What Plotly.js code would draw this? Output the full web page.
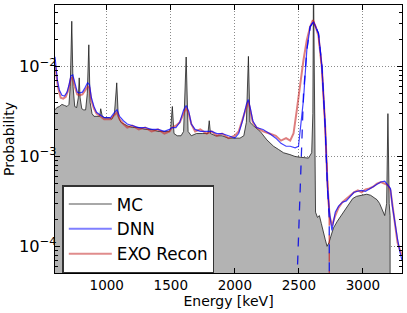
<!DOCTYPE html>
<html>
<head>
<meta charset="utf-8">
<script src="https://cdn.plot.ly/plotly-3.0.1.min.js"></script>
<style>
  html, body { margin: 0; padding: 0; background: #fff; }
  #chart { width: 407px; height: 313px; }
</style>
</head>
<body>
<div id="chart"></div>
<script>
// ---------------- data ----------------
// MC spectrum (1e-8 stands for "empty bin", below the visible axis)
const mcEnergy = [596,610,630,650,670,690,705,715,727,737,750,765,778,785,792,805,820,835,848,860,870,885,900,920,945,953,965,985,1000,1020,1040,1060,1078,1090,1110,1130,1160,1200,1250,1300,1350,1400,1450,1490,1500,1512,1525,1550,1580,1600,1620,1635,1660,1700,1750,1790,1800,1810,1850,1900,1950,2000,2040,2070,2090,2106,2118,2145,2198,2250,2302,2340,2380,2430,2470,2510,2540,2575,2600,2609,2614,2622,2630,2645,2660,2675,2690,2705,2720,2735,2750,2770,2800,2830,2860,2890,2920,2950,2980,3000,3030,3060,3090,3110,3130,3150,3170,3185,3195,3205,3212,3214,3305];
const mcProb   = [0.0033,0.0035,0.0036,0.0038,0.0037,0.0036,0.0038,0.006,0.032,0.006,0.0036,0.0035,0.0045,0.0075,0.0045,0.0034,0.0033,0.0033,0.005,0.0175,0.004,0.003,0.0028,0.0028,0.0028,0.0034,0.0028,0.0027,0.0027,0.0027,0.0026,0.003,0.0066,0.0028,0.0024,0.0023,0.0022,0.0021,0.0021,0.002,0.002,0.0019,0.0019,0.0019,0.0021,0.0036,0.0018,0.0017,0.0017,0.0019,0.0128,0.0019,0.0017,0.0018,0.0018,0.0018,0.0025,0.0018,0.0017,0.0017,0.0016,0.0016,0.0016,0.0017,0.0024,0.013,0.0024,0.0022,0.0019,0.00153,0.0013,0.0012,0.0011,0.00105,0.001,0.00098,0.00097,0.00096,0.0011,0.003,0.1,0.003,0.00024,0.00021,0.00022,0.00018,0.00014,0.00012,0.0001,0.00011,0.00013,0.00016,0.00019,0.00022,0.00026,0.0003,0.00034,0.00036,0.00037,0.00037,0.00038,0.00037,0.00035,0.00033,0.0003,0.00025,0.00022,0.0003,0.003,0.0003,0.00022,1e-8,1e-8];

// DNN reconstruction
const dnnEnergy = [596,605,615,630,650,670,690,705,720,735,750,770,790,810,830,850,865,880,900,920,950,980,1000,1030,1060,1080,1100,1130,1160,1200,1250,1300,1350,1400,1450,1490,1510,1540,1570,1600,1620,1640,1660,1690,1730,1780,1820,1860,1900,1950,2000,2030,2060,2090,2105,2120,2140,2170,2220,2270,2320,2360,2400,2432,2471,2497,2536,2562,2588,2614,2653,2680,2705,2723,2739,2758,2784,2810,2840,2870,2900,2930,2960,2990,3020,3050,3080,3110,3140,3170,3195,3215,3230,3250,3270,3290,3305];
const dnnProb   = [0.0129,0.0095,0.007,0.0055,0.0048,0.0047,0.0052,0.0062,0.0079,0.0081,0.0065,0.0052,0.0051,0.0052,0.0058,0.0066,0.0063,0.0045,0.0036,0.0031,0.0029,0.0027,0.0027,0.0027,0.0031,0.0033,0.0028,0.0025,0.0023,0.0022,0.0021,0.0021,0.002,0.002,0.0019,0.002,0.0021,0.0021,0.0024,0.0033,0.0037,0.0032,0.0023,0.002,0.0019,0.0019,0.0019,0.0018,0.0018,0.0017,0.0016,0.0018,0.0025,0.0038,0.0043,0.0035,0.0025,0.0021,0.002,0.0018,0.0016,0.0014,0.0013,0.0013,0.00125,0.0013,0.0043,0.0153,0.0278,0.0316,0.0235,0.01,0.0022,0.00046,0.00024,0.00015,0.00024,0.00028,0.00031,0.00032,0.00036,0.0004,0.00041,0.00042,0.00041,0.00043,0.00046,0.00049,0.00052,0.00053,0.00048,0.00044,0.00028,0.00018,0.00012,0.000085,0.00007];

// EXO Recon
const reconEnergy = [596,605,620,640,660,680,700,720,735,750,770,790,810,830,850,865,880,900,920,950,980,1000,1030,1060,1080,1100,1130,1160,1200,1250,1300,1350,1400,1450,1490,1510,1540,1570,1600,1620,1640,1660,1690,1730,1780,1820,1860,1900,1950,2000,2030,2060,2090,2105,2120,2140,2170,2220,2270,2320,2360,2400,2432,2458,2484,2510,2536,2562,2588,2609,2630,2653,2680,2705,2723,2739,2758,2784,2810,2840,2870,2900,2930,2960,2990,3020,3050,3080,3110,3140,3170,3195,3215,3230,3250,3270,3290,3305];
const reconProb   = [0.0105,0.0085,0.0058,0.0045,0.0044,0.0046,0.0055,0.0074,0.0075,0.006,0.0049,0.0048,0.0049,0.0054,0.006,0.0058,0.0042,0.0034,0.003,0.0028,0.0026,0.0026,0.0026,0.0029,0.0031,0.0026,0.0023,0.0021,0.0022,0.002,0.0021,0.0019,0.002,0.0018,0.0019,0.0021,0.0022,0.0024,0.0031,0.0035,0.003,0.0023,0.0019,0.002,0.0018,0.0019,0.0017,0.0018,0.0016,0.0017,0.0019,0.0026,0.0037,0.0041,0.0033,0.0024,0.0021,0.0019,0.0018,0.0017,0.0015,0.0016,0.0015,0.0018,0.0033,0.0066,0.0119,0.0198,0.0278,0.033,0.028,0.022,0.0095,0.0022,0.0005,0.00022,0.00017,0.00022,0.00027,0.00031,0.00034,0.00037,0.0004,0.00042,0.0004,0.00043,0.00044,0.00046,0.0005,0.00052,0.0005,0.00048,0.00042,0.00028,0.00017,0.00011,0.00009,0.00008];

// Peak-window (dashed) versions
const dnnCutEnergy = [2480,2536,2562,2588,2614,2653,2680,2705,2723,2737,2739];
const dnnCutProb   = [0.000025,0.005,0.0153,0.0278,0.0316,0.0235,0.01,0.0022,0.00046,0.0002,1e-7];
const reconCutEnergy = [2609,2630,2653,2680,2705,2723,2737,2739];
const reconCutProb   = [0.033,0.028,0.022,0.0095,0.0022,0.0005,0.0002,1e-7];

const seriesNames = ['MC', 'DNN', 'EXO Recon'];
const legendColors = ['#a8a8a8', '#7f7fff', '#e08c8c'];
const xTicks = [1000, 1500, 2000, 2500, 3000];

// ---------------- chart ----------------
const FONT = 'DejaVu Sans, Liberation Sans, sans-serif';
const traces = [
  { x: mcEnergy, y: mcProb, mode: 'lines', fill: 'tozeroy', fillcolor: '#b3b3b3',
    line: { width: 0, color: 'rgba(0,0,0,0)' }, showlegend: false, hoverinfo: 'skip' },
  { x: mcEnergy, y: mcProb, mode: 'lines', name: seriesNames[0], showlegend: false,
    line: { color: 'rgba(20,20,20,0.75)', width: 1 } },
  { x: reconCutEnergy, y: reconCutProb, mode: 'lines', showlegend: false,
    line: { color: 'rgba(200,30,30,0.75)', width: 1.3, dash: 'dash' } },
  { x: reconEnergy, y: reconProb, mode: 'lines', name: seriesNames[2], showlegend: false,
    line: { color: 'rgba(200,40,40,0.6)', width: 2 } },
  { x: dnnCutEnergy, y: dnnCutProb, mode: 'lines', showlegend: false,
    line: { color: 'rgba(0,0,230,0.85)', width: 1.3, dash: 'dash' } },
  { x: dnnEnergy, y: dnnProb, mode: 'lines', name: seriesNames[1], showlegend: false,
    line: { color: 'rgba(0,0,255,0.75)', width: 1.2 } }
];
// legend entries (lighter handles, as in the reference legend)
seriesNames.forEach((nm, i) => {
  traces.push({ x: [null], y: [null], mode: 'lines', name: nm, showlegend: true,
    legendrank: i + 1, hoverinfo: 'skip', line: { color: legendColors[i], width: 2 } });
});

const layout = {
  width: 407, height: 313,
  margin: { l: 55, r: 5, t: 5, b: 40 },
  paper_bgcolor: '#fff', plot_bgcolor: '#fff',
  font: { family: FONT, size: 13.5, color: '#000' },
  showlegend: true,
  legend: {
    x: 0.021, y: 0.328, xanchor: 'left', yanchor: 'top',
    bgcolor: '#fff', bordercolor: '#333', borderwidth: 1.5,
    font: { family: FONT, size: 16.8, color: '#000' },
    itemwidth: 43, traceorder: 'normal'
  },
  xaxis: {
    range: [596, 3305], tickvals: xTicks, ticktext: xTicks.map(String),
    ticks: 'inside', ticklen: 5, tickcolor: '#000',
    tickfont: { family: FONT, size: 13.5 },
    showline: true, linecolor: '#000', linewidth: 1, mirror: 'ticks',
    showgrid: true, gridcolor: '#8a8a8a', griddash: '1px,2px', gridwidth: 1,
    zeroline: false,
    title: { text: 'Energy [keV]', font: { family: FONT, size: 14 }, standoff: 3 }
  },
  yaxis: {
    type: 'log', range: [-4.297, -1.314], dtick: 1,
    exponentformat: 'power', showexponent: 'all',
    ticks: 'inside', ticklen: 5, tickcolor: '#000',
    tickfont: { family: FONT, size: 13 }, ticklabelstandoff: -5,
    minor: { ticks: 'inside', ticklen: 3, tickcolor: '#000', showgrid: false },
    showline: true, linecolor: '#000', linewidth: 1, mirror: 'ticks',
    showgrid: true, gridcolor: '#8a8a8a', griddash: '1px,2px', gridwidth: 1,
    zeroline: false,
    title: { text: 'Probability', font: { family: FONT, size: 14 } }
  }
};

Plotly.newPlot('chart', traces, layout, { staticPlot: true, displayModeBar: false });
</script>
</body>
</html>
